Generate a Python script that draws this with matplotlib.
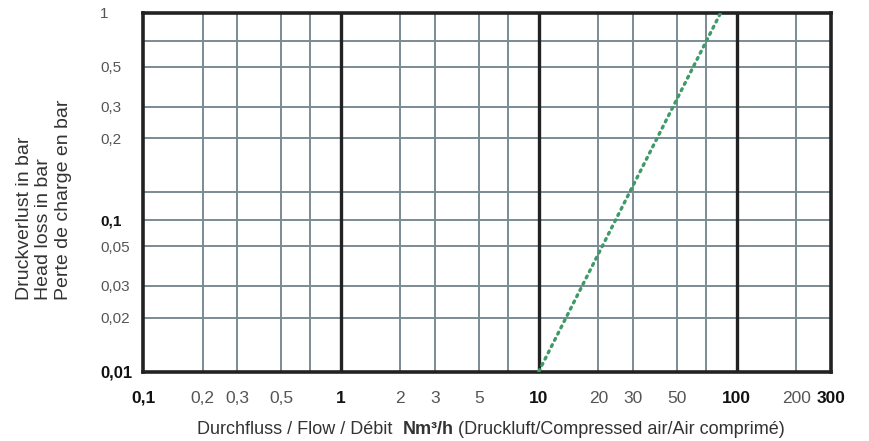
import matplotlib
matplotlib.use("Agg")
import matplotlib.pyplot as plt
from matplotlib.ticker import FixedLocator, FixedFormatter, NullLocator

plt.rcParams["font.family"] = ["Liberation Sans", "DejaVu Sans"]

# Flow axis (Nm³/h): grid values and their labels
flow_ticks = [0.1, 0.2, 0.3, 0.5, 0.7, 1, 2, 3, 5, 7, 10, 20, 30, 50, 70, 100, 200, 300]
flow_labels = ["0,1", "0,2", "0,3", "0,5", "", "1", "2", "3", "5", "", "10",
               "20", "30", "50", "", "100", "200", "300"]
flow_bold = {"0,1", "1", "10", "100", "300"}
flow_decades = [1, 10, 100]

# Pressure-loss axis (bar): grid values and their labels
loss_ticks = [0.01, 0.02, 0.03, 0.05, 0.07, 0.1, 0.2, 0.3, 0.5, 0.7, 1]
loss_labels = ["0,01", "0,02", "0,03", "0,05", "0,1", "", "0,2", "0,3", "0,5", "", "1"]
loss_bold = {"0,01", "0,1"}

# Characteristic curve (compressed air)
curve_flow = [10, 83]
curve_loss = [0.01, 1.0]

GRID = "#7b8b94"
DARK = "#222222"
TEXT = "#555555"
GREEN = "#3f9a68"

fig = plt.figure(figsize=(8.69, 4.41), dpi=100)
W, H = 869, 441
ax = fig.add_axes([143 / W, 1 - 371.5 / H, (831 - 143) / W, (371.5 - 13) / H])
ax.set_xscale("log")
ax.set_yscale("log")
ax.set_xlim(flow_ticks[0], flow_ticks[-1])
ax.set_ylim(loss_ticks[0], loss_ticks[-1])

ax.xaxis.set_major_locator(FixedLocator(flow_ticks))
ax.xaxis.set_major_formatter(FixedFormatter(flow_labels))
ax.xaxis.set_minor_locator(NullLocator())
ax.yaxis.set_major_locator(FixedLocator(loss_ticks))
ax.yaxis.set_major_formatter(FixedFormatter(loss_labels))
ax.yaxis.set_minor_locator(NullLocator())

ax.grid(True, which="major", color=GRID, lw=1.4, zorder=1)
for d in flow_decades:
    ax.axvline(d, color=DARK, lw=2.4, zorder=2)
for s in ax.spines.values():
    s.set_color(DARK)
    s.set_linewidth(2.6)
    s.set_zorder(3)

ax.tick_params(axis="both", length=0, labelcolor=TEXT)
ax.tick_params(axis="x", pad=14, labelsize=12.5)
ax.tick_params(axis="y", pad=31, labelsize=11)
for lab in ax.get_xticklabels():
    if lab.get_text() in flow_bold:
        lab.set_fontweight("bold")
        lab.set_color("#111111")
for lab in ax.get_yticklabels():
    lab.set_horizontalalignment("left")
    if lab.get_text() in loss_bold:
        lab.set_fontweight("bold")
        lab.set_color("#111111")
    if lab.get_text() == "0,01":
        lab.set_fontsize(12)

ax.plot(curve_flow, curve_loss, color=GREEN, lw=2.4, linestyle=(0, (0.6, 1.5)),
        dash_capstyle="round", zorder=4)

# Axis titles
fig.text(44 / W, 1 - 300 / H,
         "Druckverlust in bar\nHead loss in bar\nPerte de charge en bar",
         rotation=90, ha="center", va="bottom", multialignment="left",
         fontsize=14, color="#333333", linespacing=1.2)

fig.canvas.draw()
renderer = fig.canvas.get_renderer()
parts = [("Durchfluss / Flow / Débit  ", "normal"), ("Nm³/h", "bold"),
         (" (Druckluft/Compressed air/Air comprimé)", "normal")]
x = 197
for txt, wt in parts:
    t = fig.text(x / W, 1 - 429 / H, txt, fontsize=13, fontweight=wt,
                 color="#333333", ha="left", va="center")
    bb = t.get_window_extent(renderer=renderer)
    x += bb.width

fig.savefig("out.png", dpi=100)
